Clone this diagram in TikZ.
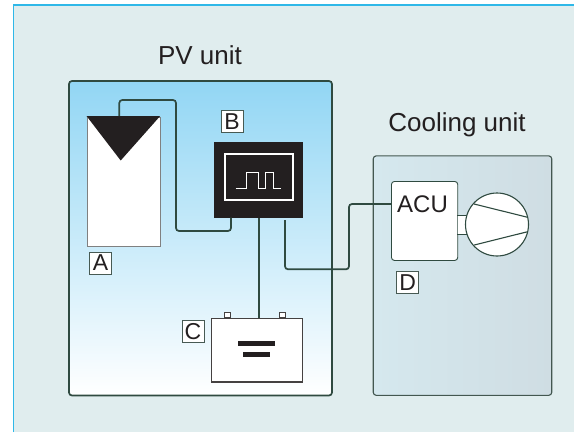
\documentclass[tikz,border=0pt]{standalone}
\usepackage{fontspec}
\setmainfont{Liberation Sans}
\definecolor{framebg}{HTML}{E0EDEE}
\definecolor{frameline}{HTML}{2FB8E8}
\definecolor{wire}{HTML}{2F4A40}
\definecolor{ink}{HTML}{231F20}
\definecolor{skytop}{HTML}{92D6F4}
\definecolor{coolL}{HTML}{D5E8EE}
\definecolor{coolR}{HTML}{CFDDE3}
\tikzset{
  wireline/.style={draw=wire,line width=1.7pt,rounded corners=3pt},
  lettertag/.style={draw=wire!70!gray,fill=white,line width=.8pt,inner sep=0pt,minimum width=22pt,minimum height=22pt,text=ink,font=\fontsize{23}{23}\selectfont},
  titletext/.style={text=ink,font=\fontsize{26}{26}\selectfont,inner sep=0pt},
}
\begin{document}
\begin{tikzpicture}[x=1pt,y=-1pt]
\useasboundingbox (0,0) rectangle (574,432);
\fill[white] (0,0) rectangle (574,432);
\fill[framebg] (13.5,5) rectangle (574,432);
\draw[frameline,line width=1.3pt] (13.5,432) -- (13.5,5) -- (574,5);
\node[titletext] (pvt) at (200,55) {PV unit};
\node[titletext] (cot) at (457,125) {Cooling unit};
\draw[draw=wire,line width=1.7pt,rounded corners=3pt,top color=skytop,bottom color=white] (69,81) rectangle (332,395.5);
\node[draw=wire!75!gray,line width=1.1pt,rounded corners=3pt,left color=coolL,right color=coolR,minimum width=178.5pt,minimum height=239.5pt,inner sep=0pt,anchor=north west] (cool) at (372.7,155.3) {};
% PV
\node[draw=gray,fill=white,line width=.9pt,minimum width=73.3pt,minimum height=129.3pt,inner sep=0pt,anchor=north west] (pv) at (86.7,116.7) {};
\fill[ink] (86.7,116.2) -- (160,116.2) -- (120.7,160.5) -- cycle;
% Controller
\node[fill=ink,minimum width=89pt,minimum height=75.7pt,inner sep=0pt,anchor=north west] (ctrl) at (214,142) {};
\node[draw=white,line width=1.7pt,minimum width=67.7pt,minimum height=46pt,inner sep=0pt,anchor=north west] (scr) at (224.3,153.3) {};
\draw[white,line width=1.5pt] (235.7,188.3) -- (246.7,188.3) -- (246.7,172.3) -- (258.3,172.3) -- (258.3,188.3) -- (265.7,188.3) -- (265.7,172.3) -- (273.3,172.3) -- (273.3,188.3) -- (280.7,188.3);
% Battery
\node[draw=ink!85,fill=white,line width=1.2pt,minimum width=91.3pt,minimum height=63.3pt,inner sep=0pt,anchor=north west] (bat) at (210.7,318) {};
\node[draw=ink!85,fill=white,line width=1pt,minimum width=6.4pt,minimum height=5.3pt,inner sep=0pt,anchor=south] (tl) at (227.5,318) {};
\node[draw=ink!85,fill=white,line width=1pt,minimum width=6.4pt,minimum height=5.3pt,inner sep=0pt,anchor=south] (tr) at (282.5,318) {};
\fill[ink] (238,341) rectangle (275.3,346.3);
\fill[ink] (242.7,352) rectangle (270.3,357.3);
% ACU
\node[draw=wire,fill=white,line width=.9pt,rounded corners=3pt,minimum width=66.3pt,minimum height=79pt,inner sep=0pt,anchor=north west] (acu) at (391,181) {};
\node[text=ink,inner sep=0pt,font=\fontsize{24}{24}\selectfont] (acut) at (422.5,204) {ACU};
% Compressor
\node[fill=white,minimum width=12pt,minimum height=18.7pt,inner sep=0pt,anchor=west] (link) at (457.3,225) {};
\draw[wire,line width=1pt] (link.north west) -- (link.north east) (link.south west) -- (link.south east);
\node[draw=wire,fill=white,circle,line width=1.1pt,minimum size=63pt,inner sep=0pt] (comp) at (497,224.5) {};
\draw[wire,line width=1.1pt] (474,204) -- (527.7,217.3) (474.3,245) -- (527.7,231.7);
% Wires
\draw[wireline] (119.3,116) -- (119.3,100) -- (176,100) -- (176,231) -- (231,231) -- (231,217.7);
\draw[wireline] (259.3,217.7) -- (259.3,318);
\draw[wireline] (285,220) -- (285,269.3) -- (349,269.3) -- (349,204) -- (391,204);
% Tags
\node[lettertag] (tA) at (100.5,263) {A};
\node[lettertag] (tB) at (232,121.7) {B};
\node[lettertag] (tC) at (193,331.5) {C};
\node[lettertag] (tD) at (407.7,282.5) {D};
\end{tikzpicture}
\end{document}
